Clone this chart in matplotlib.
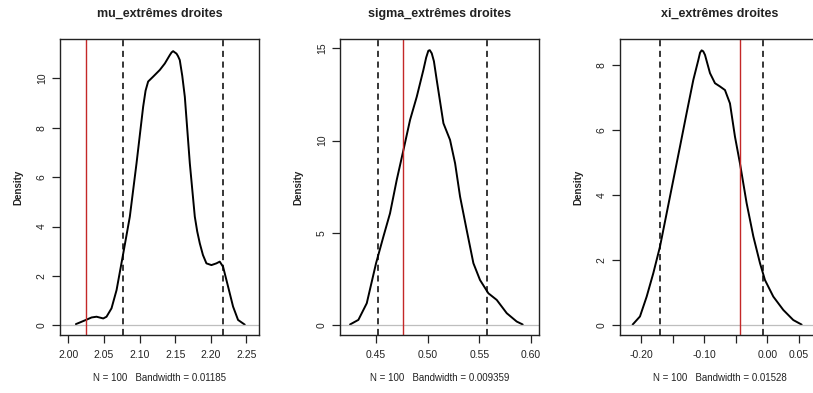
import matplotlib
matplotlib.use("Agg")
import matplotlib.pyplot as plt

plt.rcParams['font.family'] = ['Liberation Sans Narrow', 'Liberation Sans', 'DejaVu Sans']

# --- density curves ---
mu_x = [2.0107, 2.0248, 2.0327, 2.0397, 2.0491, 2.0537, 2.0607, 2.0678, 2.0771, 2.0864,
        2.0958, 2.1051, 2.1085, 2.1121, 2.1192, 2.1285, 2.1355, 2.1425, 2.1450, 2.1472,
        2.1495, 2.1519, 2.1540, 2.1565, 2.1600, 2.1636, 2.1706, 2.1776, 2.1810, 2.1846,
        2.1890, 2.1939, 2.2009, 2.2079, 2.2126, 2.2173, 2.2243, 2.2313, 2.2383, 2.2477]
mu_y = [0.05, 0.22, 0.32, 0.35, 0.28, 0.35, 0.69, 1.43, 2.9, 4.4,
        6.56, 8.85, 9.5, 9.87, 10.07, 10.34, 10.6, 10.94, 11.05, 11.1,
        11.05, 11.0, 10.9, 10.74, 10.1, 9.25, 6.56, 4.4, 3.8, 3.32,
        2.85, 2.51, 2.44, 2.51, 2.58, 2.37, 1.57, 0.76, 0.22, 0.03]

sigma_x = [0.4248, 0.4329, 0.4410, 0.4500, 0.4571, 0.4635, 0.4700, 0.4765, 0.4829, 0.4894,
           0.4958, 0.4985, 0.5006, 0.5020, 0.5039, 0.5060, 0.5087, 0.5152, 0.5216, 0.5265,
           0.5313, 0.5377, 0.5442, 0.5506, 0.5587, 0.5668, 0.5765, 0.5861, 0.5919]
sigma_y = [0.04, 0.29, 1.19, 3.36, 4.8, 6.06, 7.87, 9.49, 11.12, 12.38,
           13.83, 14.5, 14.87, 14.9, 14.73, 14.3, 13.29, 10.94, 10.04, 8.77,
           6.97, 5.16, 3.36, 2.45, 1.73, 1.37, 0.65, 0.2, 0.04]

xi_x = [-0.2132, -0.2016, -0.1910, -0.1805, -0.1699, -0.1594, -0.1488, -0.1383, -0.1278, -0.1172,
        -0.1093, -0.1065, -0.1040, -0.1015, -0.0987, -0.0908, -0.0829, -0.0750, -0.0671, -0.0592,
        -0.0513, -0.0434, -0.0328, -0.0222, -0.0117, -0.0038, 0.0094, 0.0252, 0.0410, 0.0542]
xi_y = [0.02, 0.27, 0.88, 1.6, 2.42, 3.44, 4.47, 5.49, 6.52, 7.54,
        8.15, 8.38, 8.45, 8.42, 8.31, 7.75, 7.44, 7.34, 7.23, 6.82,
        5.8, 4.98, 3.75, 2.73, 1.91, 1.39, 0.88, 0.47, 0.16, 0.02]

titles = ['mu_extrêmes droites', 'sigma_extrêmes droites', 'xi_extrêmes droites']
subtitles = ['N = 100   Bandwidth = 0.01185', 'N = 100   Bandwidth = 0.009359',
             'N = 100   Bandwidth = 0.01528']
red_lines = [2.0244, 0.4758, -0.0434]
dashed_lines = [(2.0762, 2.2176), (0.4522, 0.5571), (-0.170, -0.0070)]
x_ticks = [[2.00, 2.05, 2.10, 2.15, 2.20, 2.25],
           [0.45, 0.50, 0.55, 0.60],
           [-0.20, -0.15, -0.10, -0.05, 0.00, 0.05]]
x_labels = [['2.00', '2.05', '2.10', '2.15', '2.20', '2.25'],
            ['0.45', '0.50', '0.55', '0.60'],
            ['-0.20', '', '-0.10', '', '0.00', '0.05']]
y_ticks = [[0, 2, 4, 6, 8, 10], [0, 5, 10, 15], [0, 2, 4, 6, 8]]
x_lims = [(1.9884, 2.2677), (0.4151, 0.6077), (-0.2332, 0.0817)]
y_lims = [(-0.39, 11.58), (-0.53, 15.49), (-0.30, 8.79)]

curves = [(mu_x, mu_y), (sigma_x, sigma_y), (xi_x, xi_y)]

W, H = 813, 393
fig = plt.figure(figsize=(W / 100, H / 100), dpi=100)
fig.patch.set_facecolor('white')

lefts = [60, 340, 620]
for i in range(3):
    ax = fig.add_axes([lefts[i] / W, (H - 335) / H, 199 / W, (335 - 39.3) / H])
    cx, cy = curves[i]
    ax.plot(cx, cy, color='black', lw=1.4, solid_joinstyle='round', solid_capstyle='round')
    ax.axhline(0, color='#bebebe', lw=0.9)
    ax.axvline(red_lines[i], color='#c42828', lw=1.0)
    for d in dashed_lines[i]:
        ax.axvline(d, color='black', lw=1.1, linestyle=(0, (4, 3)))
    ax.set_xlim(*x_lims[i])
    ax.set_ylim(*y_lims[i])
    ax.set_xticks(x_ticks[i])
    ax.set_xticklabels(x_labels[i])
    ax.set_yticks(y_ticks[i])
    ax.set_yticklabels([str(t) for t in y_ticks[i]], rotation=90, va='center')
    ax.tick_params(length=6, width=0.9, labelsize=7.5, color='#222222', labelcolor='#222222')
    ax.tick_params(axis='x', pad=5)
    ax.tick_params(axis='y', pad=3.5)
    for s in ax.spines.values():
        s.set_color('#222222')
        s.set_linewidth(1.0)
    ax.set_ylabel('Density', fontsize=7, fontweight='bold', color='#222222', labelpad=10)
    ax.set_xlabel(subtitles[i], fontsize=7, color='#222222', labelpad=9)
    ax.set_title(titles[i], fontsize=9, fontweight='bold', color='#222222', pad=16)

fig.savefig('out.png', dpi=100)
